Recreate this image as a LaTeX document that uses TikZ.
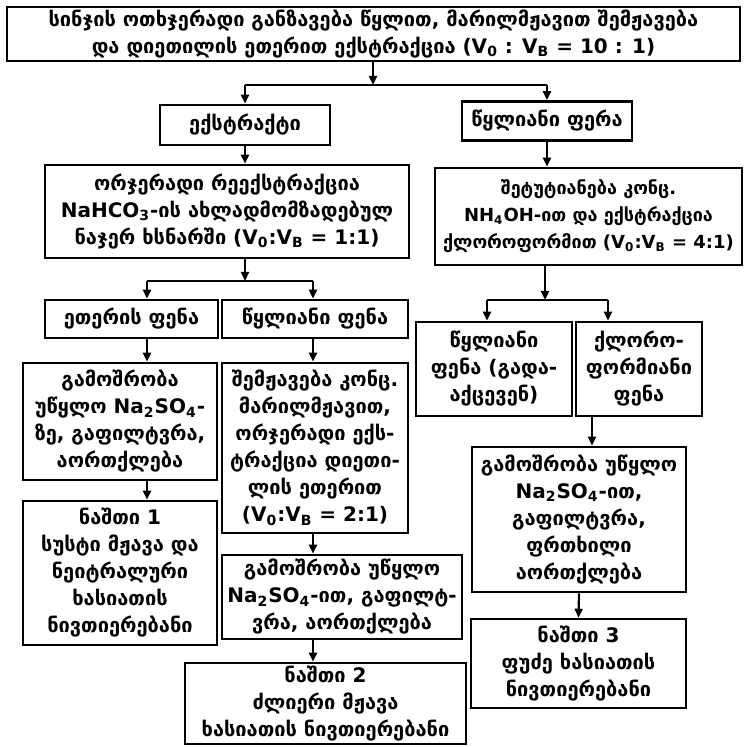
\documentclass[tikz,border=0pt]{standalone}
\usepackage{fontspec}
\setmainfont{DejaVu Sans}
\usetikzlibrary{arrows.meta}

\tikzset{
  box/.style={draw, line width=1.3pt, align=center, inner sep=0pt,
    font=\bfseries\fontsize{10}{13.5}\selectfont},
  arr/.style={-{Triangle[length=4.5pt,width=4pt]}, line width=1.1pt},
  ln/.style={line width=1.1pt}
}

\begin{document}
\begin{tikzpicture}[x=0.5pt,y=-0.5pt]
	\useasboundingbox (0,0) rectangle (745,747);

	% top row
	\node[box, minimum width=366.5pt, minimum height=27pt] (sinji) at (373.5,34)
		{სინჯის ოთხჯერადი განზავება წყლით, მარილმჟავით შემჟავება\\
		 და დიეთილის ეთერით ექსტრაქცია (V\textsubscript{0} : V\textsubscript{B} = 10 : 1)};
	\node[box, minimum width=85pt, minimum height=20pt] (ekst) at (245,125) {ექსტრაქტი};
	\node[box, minimum width=85pt, minimum height=19.5pt] (tskl1) at (547,121) {წყლიანი ფერა};

	\node[box, minimum width=182pt, minimum height=46.5pt] (orj) at (227,211.5)
		{ორჯერადი რეექსტრაქცია\\ NaHCO\textsubscript{3}-ის ახლადმომზადებულ\\
		 ნაჯერ ხსნარში (V\textsubscript{0}:V\textsubscript{B} = 1:1)};
	\node[box, minimum width=153.5pt, minimum height=48.5pt,
		font=\bfseries\fontsize{9}{13.5}\selectfont] (shet) at (588.5,216.5)
		{შეტუტიანება კონც.\\ NH\textsubscript{4}OH-ით და ექსტრაქცია\\
		 ქლოროფორმით (V\textsubscript{0}:V\textsubscript{B} = 4:1)};

	% layers
	\node[box, minimum width=86.5pt, minimum height=19pt] (eter) at (131.5,319) {ეთერის ფენა};
	\node[box, minimum width=93pt, minimum height=19pt] (tskl2) at (315,319) {წყლიანი ფენა};
	\node[box, minimum width=78pt, minimum height=47pt] (tskl3) at (494,369)
		{წყლიანი\\ ფენა (გადა-\\ აქცევენ)};
	\node[box, minimum width=63pt, minimum height=47pt] (kloro) at (639,369)
		{ქლორო-\\ ფორმიანი\\ ფენა};

	% left column
	\node[box, minimum width=97pt, minimum height=58.5pt] (gamL) at (120,421.5)
		{გამოშრობა\\ უწყლო Na\textsubscript{2}SO\textsubscript{4}-\\ ზე, გაფილტვრა,\\ აორთქლება};
	\node[box, minimum width=97pt, minimum height=72pt] (nashti1) at (120,573)
		{ნაშთი 1\\ სუსტი მჟავა და\\ ნეიტრალური\\ ხასიათის\\ ნივთიერებანი};

	% middle column
	\node[box, minimum width=93pt, minimum height=85pt] (shem) at (315,448)
		{შემჟავება კონც.\\ მარილმჟავით,\\ ორჯერადი ექს-\\ ტრაქცია დიეთი-\\ ლის ეთერით\\
		 (V\textsubscript{0}:V\textsubscript{B} = 2:1)};
	\node[box, minimum width=120pt, minimum height=42pt] (gamM) at (342,597)
		{გამოშრობა უწყლო\\ Na\textsubscript{2}SO\textsubscript{4}-ით, გაფილტ-\\ ვრა, აორთქლება};
	\node[box, minimum width=140.5pt, minimum height=40.5pt] (nashti2) at (325.5,703.5)
		{ნაშთი 2\\ ძლიერი მჟავა\\ ხასიათის ნივთიერებანი};

	% right column
	\node[box, minimum width=107pt, minimum height=72.5pt] (gamR) at (579,519.5)
		{გამოშრობა უწყლო\\ Na\textsubscript{2}SO\textsubscript{4}-ით,\\ გაფილტვრა,\\ ფრთხილი\\ აორთქლება};
	\node[box, minimum width=107.5pt, minimum height=44.5pt] (nashti3) at (578.5,663.5)
		{ნაშთი 3\\ ფუძე ხასიათის\\ ნივთიერებანი};

	% connectors
	\coordinate (j1) at (373,85);
	\coordinate (j1l) at (245,85);
	\coordinate (j1r) at (547,85);
	\draw[arr] (sinji.south -| j1) -- (j1);
	\draw[ln] (j1l) -- (j1r);
	\draw[arr] (j1l) -- (ekst.north -| j1l);
	\draw[arr] (j1r) -- (tskl1.north -| j1r);
	\draw[arr] (ekst.south) -- (orj.north -| ekst.south);
	\draw[arr] (tskl1.south) -- (shet.north -| tskl1.south);

	\coordinate (j2) at (245,281);
	\coordinate (j2l) at (147,281);
	\coordinate (j2r) at (313,281);
	\draw[arr] (orj.south -| j2) -- (j2);
	\draw[ln] (j2l) -- (j2r);
	\draw[arr] (j2l) -- (eter.north -| j2l);
	\draw[arr] (j2r) -- (tskl2.north -| j2r);

	\coordinate (j3) at (545,300);
	\coordinate (j3l) at (487,300);
	\coordinate (j3r) at (608,300);
	\draw[arr] (shet.south -| j3) -- (j3);
	\draw[ln] (j3l) -- (j3r);
	\draw[arr] (j3l) -- (tskl3.north -| j3l);
	\draw[arr] (j3r) -- (kloro.north -| j3r);

	\draw[arr] (eter.south -| j2l) -- (gamL.north -| j2l);
	\draw[arr] (gamL.south -| j2l) -- (nashti1.north -| j2l);
	\draw[arr] (tskl2.south -| j2r) -- (shem.north -| j2r);
	\draw[arr] (shem.south -| j2r) -- (gamM.north -| j2r);
	\draw[arr] (gamM.south -| j2r) -- (nashti2.north -| j2r);

	\coordinate (k3) at (592,430);
	\draw[arr] (kloro.south -| k3) -- (gamR.north -| k3);
	\draw[arr] (gamR.south) -- (nashti3.north);
\end{tikzpicture}
\end{document}
